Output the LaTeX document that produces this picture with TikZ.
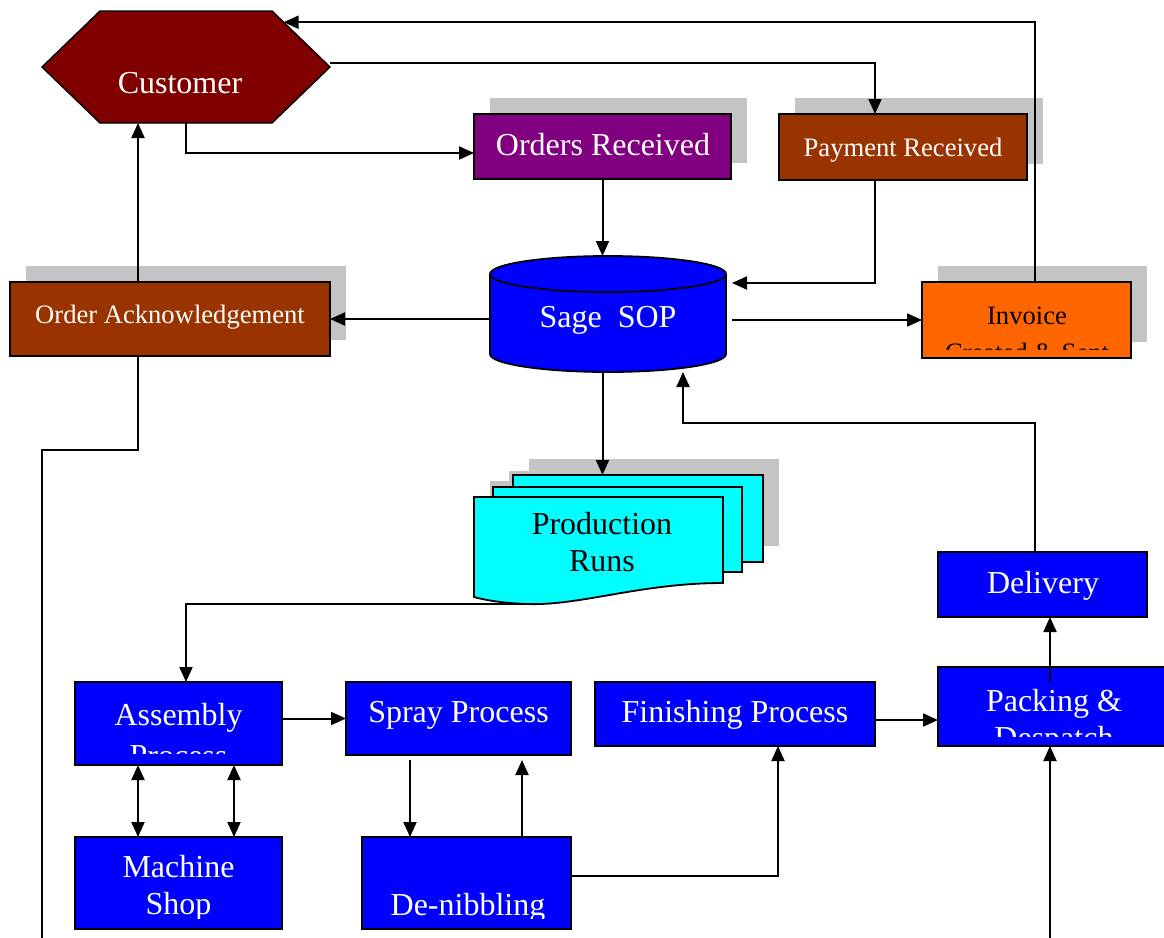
\documentclass[tikz,border=0pt]{standalone}
\usepackage{fontspec}
\setmainfont{Liberation Serif}
\usetikzlibrary{arrows.meta,calc,shadows}

\definecolor{maroonfill}{HTML}{800000}
\definecolor{plumfill}{HTML}{800080}
\definecolor{rustfill}{HTML}{993300}
\definecolor{orangefill}{HTML}{FF6600}
\definecolor{bluefill}{HTML}{0000FF}
\definecolor{cyanfill}{HTML}{00FFFF}
\definecolor{shadowgray}{HTML}{C4C4C4}

\newcommand\bigtxt{\fontsize{32}{37}\selectfont}
\newcommand\midtxt{\fontsize{26.6}{37}\selectfont}

\tikzset{
  frame/.style={inner sep=0pt, outer sep=0pt},
  box/.style={draw=black, line width=1.8pt, inner sep=0pt, outer sep=0pt},
  shadowed/.style={drop shadow={shadow xshift=16pt, shadow yshift=16pt,
      fill=shadowgray, opacity=1, draw=none}},
  page/.style={fill=cyanfill, draw=black, line width=1.8pt},
  lbl/.style={inner sep=0pt, anchor=base, align=center},
  conn/.style={line width=2pt},
  arr/.style={conn, -{Triangle[length=15pt,width=13pt]}},
  dblarr/.style={conn, {Triangle[length=15pt,width=13pt]}-{Triangle[length=15pt,width=13pt]}},
}

\begin{document}
\begin{tikzpicture}[x=1pt,y=-1pt]
\clip (0,0) rectangle (1164,937);

% ---------- Customer (hexagon) ----------
\node[frame, minimum width=288pt, minimum height=112pt] (cust) at (186,67) {};
\filldraw[fill=maroonfill, draw=black, line width=1.4pt]
  (cust.west) -- ([xshift=58pt]cust.north west) -- ([xshift=-58pt]cust.north east)
  -- (cust.east) -- ([xshift=-58pt]cust.south east) -- ([xshift=58pt]cust.south west) -- cycle;
\node[lbl, text=white, font=\bigtxt] (custtxt) at (180,93) {Customer};

% ---------- Order handling boxes ----------
\node[box, shadowed, fill=plumfill, minimum width=257pt, minimum height=65pt] (orders) at (602.5,146.5) {};
\node[lbl, text=white, font=\bigtxt] (orderstxt) at (603,155) {Orders Received};

\node[box, shadowed, fill=rustfill, minimum width=248pt, minimum height=66pt] (payment) at (903,147) {};
\node[lbl, text=white, font=\midtxt] (paymenttxt) at (903,156) {Payment Received};

\node[box, shadowed, fill=rustfill, minimum width=320pt, minimum height=74pt] (ack) at (170,319) {};
\node[lbl, text=white, font=\midtxt] (acktxt) at (170,323) {Order Acknowledgement};

\node[box, shadowed, fill=orangefill, minimum width=209pt, minimum height=76pt] (inv) at (1026.5,320) {};
\begin{scope}
  % the second line runs past the bottom margin of the box
  \clip (inv.north west) rectangle ($(inv.south east)+(0,-9)$);
  \node[lbl, font=\midtxt] (invtxt) at (1027,361) {Invoice\\Created \& Sent};
\end{scope}

% ---------- Sage SOP (database cylinder) ----------
\node[frame, minimum width=236pt, minimum height=116pt] (sage) at (608,314) {};
\filldraw[fill=bluefill, draw=black, line width=1.8pt]
  ([yshift=-18pt]sage.north west) -- ([yshift=18pt]sage.south west)
  arc[start angle=180, end angle=360, x radius=118pt, y radius=18pt]
  -- ([yshift=-18pt]sage.north east)
  arc[start angle=0, end angle=180, x radius=118pt, y radius=18pt] -- cycle;
\draw[line width=1.8pt] ([yshift=-18pt]sage.north west)
  arc[start angle=180, end angle=360, x radius=118pt, y radius=18pt];
\node[lbl, text=white, font=\bigtxt] (sagetxt) at (608,327) {Sage~ SOP};

% ---------- Production runs (stacked documents) ----------
\node[frame, minimum width=250pt, minimum height=87pt] (prodback) at (638,518.5) {};
\node[frame, minimum width=249pt, minimum height=85pt] (prodmid) at (617.5,529.5) {};
\node[frame, minimum width=249pt, minimum height=86pt] (prodfront) at (598.5,540) {};
\fill[shadowgray] ([shift={(16,-16)}]prodback.south west) rectangle ([shift={(16,-16)}]prodback.north east);
\fill[shadowgray] ([shift={(16,-16)}]prodmid.south west) rectangle ([shift={(16,-16)}]prodmid.north east);
\fill[shadowgray] ([shift={(16,-16)}]prodfront.south west) rectangle ([shift={(16,-16)}]prodfront.north east);
\filldraw[page] (prodback.south west) rectangle (prodback.north east);
\filldraw[page] (prodmid.south west) rectangle (prodmid.north east);
\filldraw[page] (prodfront.north west) -- (prodfront.north east) -- (prodfront.south east)
  .. controls +(-83,0) and +(53,2) .. ($(prodfront.south west)+(53,21)$)
  .. controls +(-26,-1) and +(11,3) .. ($(prodfront.south west)+(0,14)$) -- cycle;
\node[lbl, font=\bigtxt] (prodtxt) at (602,571) {Production\\Runs};

% ---------- Shop floor ----------
\node[box, fill=bluefill, minimum width=209pt, minimum height=65pt] (deliv) at (1042.5,584.5) {};
\node[lbl, text=white, font=\bigtxt] (delivtxt) at (1043,593) {Delivery};

\node[box, fill=bluefill, minimum width=232pt, minimum height=79pt] (pack) at (1054,706.5) {};
\begin{scope}
  \clip (pack.north west) rectangle ($(pack.south east)+(0,-10)$);
  \node[lbl, text=white, font=\bigtxt] (packtxt) at (1054,748) {Packing \&\\Despatch};
\end{scope}

\node[box, fill=bluefill, minimum width=207pt, minimum height=83pt] (asm) at (178.5,723.5) {};
\begin{scope}
  \clip (asm.north west) rectangle ($(asm.south east)+(0,-12)$);
  \node[lbl, text=white, font=\bigtxt] (asmtxt) at (178.5,766) {Assembly\\[4pt]Process};
\end{scope}

\node[box, fill=bluefill, minimum width=225pt, minimum height=73pt] (spray) at (458.5,718.5) {};
\node[lbl, text=white, font=\bigtxt] (spraytxt) at (458.5,722) {Spray Process};

\node[box, fill=bluefill, minimum width=280pt, minimum height=64pt] (fin) at (735,714) {};
\node[lbl, text=white, font=\bigtxt] (fintxt) at (735,722) {Finishing Process};

\node[box, fill=bluefill, minimum width=207pt, minimum height=92pt] (mach) at (178.5,883) {};
\begin{scope}
  \clip (mach.north west) rectangle ($(mach.south east)+(0,-11)$);
  \node[lbl, text=white, font=\bigtxt] (machtxt) at (178.5,914) {Machine\\Shop};
\end{scope}

\node[box, fill=bluefill, minimum width=209pt, minimum height=92pt] (denib) at (466.5,883) {};
\begin{scope}
  \clip (denib.north west) rectangle ($(denib.south east)+(0,-11)$);
  \node[lbl, text=white, font=\bigtxt] (denibtxt) at (468,915) {De-nibbling};
\end{scope}

% ---------- Connectors ----------
\coordinate (custhit) at ($([xshift=-58pt]cust.north east)!0.2!(cust.east)$);
\draw[arr] ([xshift=8.5pt]inv.north) |- (custhit);
\draw[arr] ([yshift=4pt]cust.east) -| ([xshift=-28pt]payment.north);
\draw[arr] (cust.south) |- ([yshift=-6.5pt]orders.west);
\draw[arr] (orders.south) -- (orders.south |- sage.north);
\draw[arr] ([xshift=-28pt]payment.south) |- ($(sage.north east)+(6,27)$);
\draw[arr] (sage.west |- ack.east) -- (ack.east);
\draw[arr] ([xshift=6pt]sage.east |- inv.west) -- (inv.west);
\draw[arr] ([xshift=-32pt]ack.north) -- ([xshift=-32pt]ack.north |- cust.south);

\coordinate (ackout) at (42,945);
\draw[conn] ([xshift=-32pt]ack.south) -- ++(0,94) -| (ackout);

\draw[arr] (orders.south |- sage.south) -- (orders.south |- prodback.north);

\coordinate (prodout) at ($(prodfront.south west)+(50,21)$);
\draw[arr] (prodout) -| ([xshift=7.5pt]asm.north);

\draw[arr] (asm.east |- spray.west) -- (spray.west);
\draw[dblarr] ([xshift=-40.5pt]asm.south) -- ([xshift=-40.5pt]asm.south |- mach.north);
\draw[dblarr] ([xshift=55.5pt]asm.south) -- ([xshift=55.5pt]asm.south |- mach.north);

\draw[arr] ([xshift=-48.5pt,yshift=-5pt]spray.south) -- ([xshift=-48.5pt]spray.south |- denib.north);
\draw[arr] ([xshift=63.5pt]spray.south |- denib.north) -- ([xshift=63.5pt,yshift=-5pt]spray.south);

\draw[arr] ([yshift=7pt]denib.east) -| ([xshift=43pt]fin.south);
\draw[arr] ([yshift=-6pt]fin.east) -- ([yshift=-6pt]fin.east -| pack.west);

\draw[arr] ([xshift=-4pt,yshift=-15pt]pack.north) -- ([xshift=-4pt]pack.north |- deliv.south);
\draw[arr] ([xshift=-7.5pt]deliv.north) -- ++(0,-129) -| ($(sage.south)+(75,0)$);

\coordinate (packin) at (1050,945);
\draw[arr] (packin) -- (packin |- pack.south);

\end{tikzpicture}
\end{document}
